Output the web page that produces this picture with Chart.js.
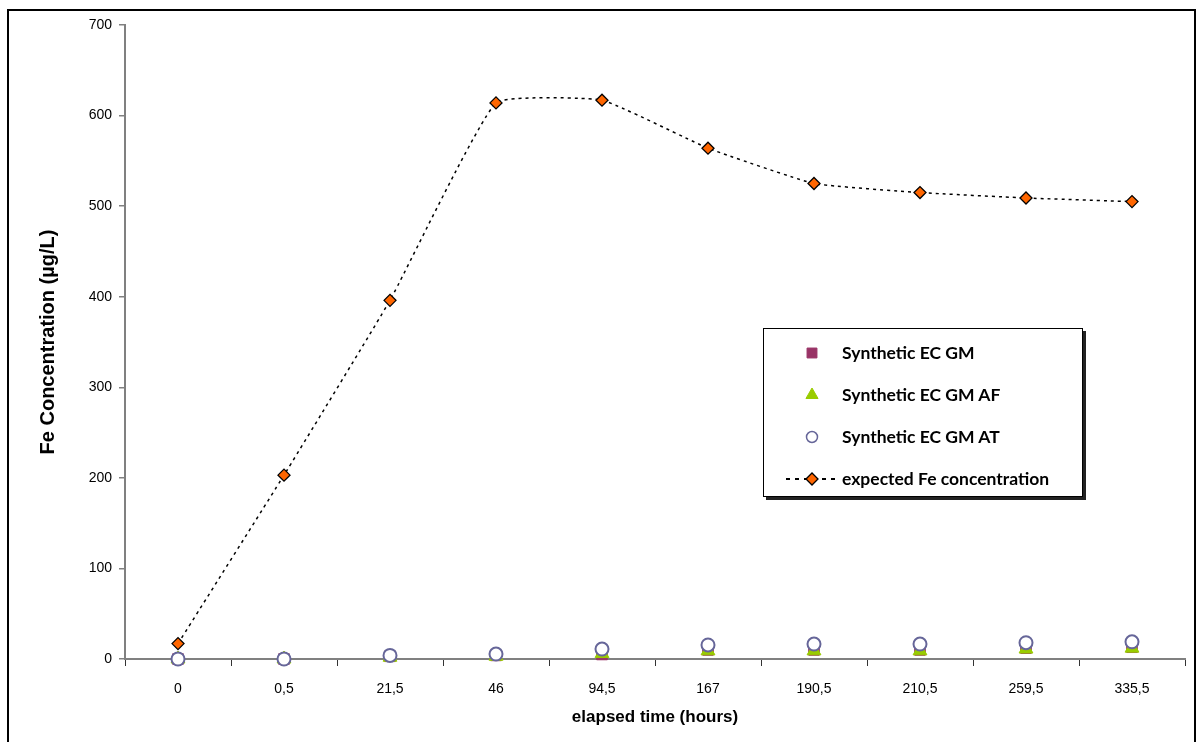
<!DOCTYPE html>
<html>
<head>
<meta charset="utf-8">
<script src="https://cdn.jsdelivr.net/npm/chart.js@4.4.1/dist/chart.umd.min.js"></script>
<style>
  body { margin: 0; background: #fff; }
  #wrap { position: relative; width: 1200px; height: 742px; }
  #frame { position: absolute; left: 7px; top: 9px; width: 1189px; height: 760px; border: 2px solid #000; box-sizing: border-box; }
  #legend {
    position: absolute; left: 763px; top: 328px; width: 320px; height: 169px;
    border: 1px solid #000; background: #fff; box-sizing: border-box;
    box-shadow: 3px 3px 0 #222;
    font-family: Lato, "Open Sans", sans-serif; font-weight: bold; font-size: 17.5px; color: #000;
  }
  .row { position: absolute; left: 0; height: 20px; line-height: 20px; }
  .row span { position: absolute; left: 78px; white-space: nowrap; }
  .row canvas { position: absolute; left: 0; top: 0; }
</style>
</head>
<body>
<div id="wrap">
  <canvas id="chart" width="1200" height="742"></canvas>
  <div id="frame"></div>
  <div id="legend"></div>
</div>
<script>
// x categories (elapsed time, hours)
const timeLabels = ['0', '0,5', '21,5', '46', '94,5', '167', '190,5', '210,5', '259,5', '335,5'];

// Fe concentration (µg/L)
const gmValues = [0, 0, 3, 4, 5, 10, 10, 10, 12, 13];
const afValues = [0, 0, 2, 3, 6, 9, 9, 9, 11, 12];
const atValues = [0, 0, 4, 5.5, 11, 15.5, 16.5, 16.5, 18, 19];
const expectedValues = [17, 203, 396, 614, 617, 564, 525, 515, 509, 505];

const seriesNames = ['Synthetic EC GM', 'Synthetic EC GM AF', 'Synthetic EC GM AT', 'expected Fe concentration'];
const yTicks = [0, 100, 200, 300, 400, 500, 600, 700];

const axisGray = '#808080';

const chart = new Chart(document.getElementById('chart'), {
    type: 'line',
    data: {
        labels: timeLabels,
        datasets: [
            {
                label: seriesNames[0], data: gmValues, showLine: false, order: 4, clip: false,
                pointStyle: 'rect', pointRadius: 7.5, backgroundColor: '#993366', borderColor: '#993366', borderWidth: 1
            },
            {
                label: seriesNames[1], data: afValues, showLine: false, order: 3, clip: false,
                pointStyle: 'triangle', pointRadius: 8, backgroundColor: '#99CC00', borderColor: '#99CC00', borderWidth: 1
            },
            {
                label: seriesNames[2], data: atValues, showLine: false, order: 2, clip: false,
                pointStyle: 'circle', pointRadius: 6.5, backgroundColor: '#ffffff', borderColor: '#666699', borderWidth: 2
            },
            {
                label: seriesNames[3], data: expectedValues, order: 1, clip: false,
                borderColor: '#000', borderWidth: 1.5, borderDash: [3, 4], tension: 0.12,
                pointStyle: 'rectRot', pointRadius: 6, pointBackgroundColor: '#FF6600',
                pointBorderColor: '#000', pointBorderWidth: 1.3
            }
        ]
    },
    options: {
        responsive: false,
        animation: false,
        layout: { padding: { left: 32, top: 25, right: 15, bottom: 10 } },
        plugins: { legend: { display: false }, tooltip: { enabled: false } },
        scales: {
            x: {
                type: 'category',
                offset: true,
                afterFit: s => { s.height = 73; },
                grid: { offset: true, drawOnChartArea: false, drawTicks: true, tickLength: 7, color: '#333', lineWidth: 1 },
                border: { color: axisGray, width: 2 },
                ticks: { color: '#000', padding: 15, maxRotation: 0, font: { family: 'Arial, "Liberation Sans"', size: 14 } },
                title: {
                    display: true, text: 'elapsed time (hours)', color: '#000', padding: 4,
                    font: { family: 'Arial, "Liberation Sans"', size: 17, weight: 'bold' }
                }
            },
            y: {
                min: 0, max: 700,
                afterFit: s => { s.width = 93; },
                afterBuildTicks: s => { s.ticks = yTicks.map(v => ({ value: v })); },
                grid: { drawOnChartArea: false, drawTicks: true, tickLength: 6, color: axisGray, lineWidth: 1.5 },
                border: { color: axisGray, width: 2 },
                ticks: { color: '#000', padding: 7, font: { family: 'Arial, "Liberation Sans"', size: 14 } },
                title: {
                    display: true, text: 'Fe Concentration (µg/L)', color: '#000', padding: 4,
                    font: { family: 'Arial, "Liberation Sans"', size: 20, weight: 'bold' }
                }
            }
        }
    }
});

// legend, built from the datasets
const legend = document.getElementById('legend');
const rowTops = [14, 56, 98, 140];
chart.data.datasets.forEach((ds, i) => {
    const row = document.createElement('div');
    row.className = 'row';
    row.style.top = rowTops[i] + 'px';
    row.style.width = '318px';
    const c = document.createElement('canvas');
    c.width = 76; c.height = 20;
    row.appendChild(c);
    const sp = document.createElement('span');
    sp.textContent = ds.label;
    row.appendChild(sp);
    legend.appendChild(row);

    const ctx = c.getContext('2d');
    const cx = 48, cy = 10;
    if (i === 3) {
        ctx.strokeStyle = '#000'; ctx.lineWidth = 1.8; ctx.setLineDash([4, 5]);
        ctx.beginPath(); ctx.moveTo(22, cy); ctx.lineTo(74, cy); ctx.stroke();
        ctx.setLineDash([]);
    }
    ctx.fillStyle = i === 3 ? ds.pointBackgroundColor : ds.backgroundColor;
    ctx.strokeStyle = i === 3 ? ds.pointBorderColor : ds.borderColor;
    ctx.lineWidth = i === 3 ? ds.pointBorderWidth : (i === 2 ? 1.5 : ds.borderWidth);
    Chart.helpers.drawPoint(ctx, {
        pointStyle: i === 3 ? 'rectRot' : ds.pointStyle,
        radius: [7, 7, 5.5, 6][i],
        borderWidth: ctx.lineWidth
    }, cx, cy);
});
</script>
</body>
</html>
